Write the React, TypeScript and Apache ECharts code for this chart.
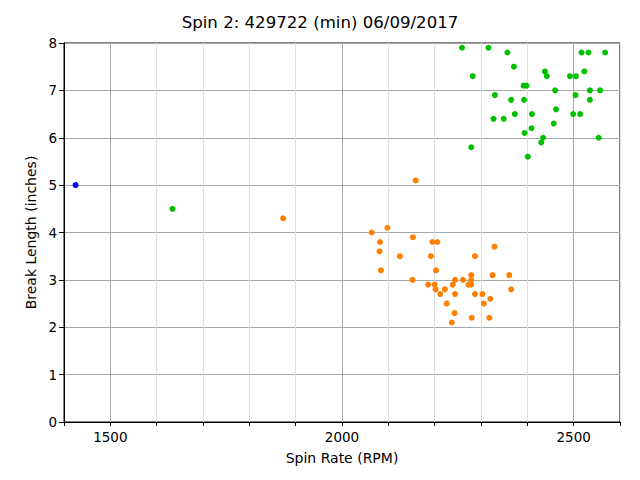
import React, { useEffect, useRef } from "react";
import * as echarts from "echarts";

const title = "Spin 2: 429722 (min) 06/09/2017";
const xName = "Spin Rate (RPM)";
const yName = "Break Length (inches)";

const blueX = [1425];
const blueY = [5.0];

const greenX = [1634, 2259, 2316, 2357, 2517, 2532, 2568, 2371, 2438, 2442, 2282, 2492, 2505, 2523, 2392, 2398, 2460, 2535, 2557, 2330, 2504, 2365, 2393, 2535, 2462, 2327, 2349, 2373, 2410, 2499, 2514, 2457, 2409, 2394, 2434, 2430, 2554, 2279, 2401];
const greenY = [4.5, 7.9, 7.9, 7.8, 7.8, 7.8, 7.8, 7.5, 7.4, 7.3, 7.3, 7.3, 7.3, 7.4, 7.1, 7.1, 7.0, 7.0, 7.0, 6.9, 6.9, 6.8, 6.8, 6.8, 6.6, 6.4, 6.4, 6.5, 6.5, 6.5, 6.5, 6.3, 6.2, 6.1, 6.0, 5.9, 6.0, 5.8, 5.6];

const orangeX = [1873, 2159, 2064, 2098, 2082, 2081, 2153, 2195, 2206, 2125, 2192, 2287, 2329, 2084, 2203, 2152, 2279, 2325, 2361, 2244, 2261, 2279, 2186, 2200, 2239, 2273, 2279, 2202, 2222, 2365, 2212, 2244, 2287, 2303, 2320, 2306, 2226, 2243, 2280, 2318, 2237];
const orangeY = [4.3, 5.1, 4.0, 4.1, 3.8, 3.6, 3.9, 3.8, 3.8, 3.5, 3.5, 3.5, 3.7, 3.2, 3.2, 3.0, 3.1, 3.1, 3.1, 3.0, 3.0, 3.0, 2.9, 2.9, 2.9, 2.9, 2.9, 2.8, 2.8, 2.8, 2.7, 2.7, 2.7, 2.7, 2.6, 2.5, 2.5, 2.3, 2.2, 2.2, 2.1];

const xMin = 1400;
const xMax = 2600;
const xStep = 100;
const xLabelStep = 500;
const yMin = 0;
const yMax = 8;
const yStep = 1;

const zip = (xs: number[], ys: number[]) => xs.map((x, i) => [x, ys[i]]);

export default function App() {
  const ref = useRef<HTMLDivElement>(null);
  useEffect(() => {
    document.body.style.margin = "0";
    const chart = echarts.init(ref.current!, null, { renderer: "svg" });
    const font = "DejaVu Sans";
    const major = "#a8a8a8";
    const minor = "#dedede";
    chart.setOption({
      animation: false,
      backgroundColor: "#ffffff",
      title: {
        text: title,
        left: "center",
        top: 9,
        textStyle: { fontFamily: font, fontSize: 16.6, fontWeight: "normal", color: "#000" },
      },
      grid: {
        left: 64,
        right: 20,
        top: 43,
        bottom: 58,
        show: true,
        borderColor: "#000",
        borderWidth: 1,
        backgroundColor: "transparent",
      },
      xAxis: {
        type: "value",
        min: xMin,
        max: xMax,
        interval: xStep,
        name: xName,
        nameLocation: "middle",
        nameGap: 29,
        nameTextStyle: { fontFamily: font, fontSize: 14, color: "#000" },
        axisLine: { show: true, onZero: false, lineStyle: { color: "#000", width: 1 } },
        axisTick: { show: true, inside: false, length: 4, lineStyle: { color: "#000" } },
        axisLabel: {
          fontFamily: font,
          fontSize: 13.5,
          color: "#000",
          margin: 8,
          formatter: (v: number) => (v % xLabelStep === 0 ? String(v) : ""),
        },
        splitLine: {
          show: true,
          lineStyle: { color: [minor, major, minor, minor, minor], width: 1 },
        },
      },
      yAxis: {
        type: "value",
        min: yMin,
        max: yMax,
        interval: yStep,
        name: yName,
        nameLocation: "middle",
        nameGap: 26,
        nameTextStyle: { fontFamily: font, fontSize: 14, color: "#000" },
        axisLine: { show: true, onZero: false, lineStyle: { color: "#000", width: 1 } },
        axisTick: { show: true, inside: false, length: 5, lineStyle: { color: "#000" } },
        axisLabel: { fontFamily: font, fontSize: 13.5, color: "#000", margin: 7 },
        splitLine: { show: true, lineStyle: { color: major, width: 1 } },
      },
      series: [
        {
          type: "scatter",
          data: zip(blueX, blueY),
          symbolSize: 6,
          itemStyle: { color: "#0000ff", opacity: 1 },
        },
        {
          type: "scatter",
          data: zip(greenX, greenY),
          symbolSize: 6,
          itemStyle: { color: "#00c000", opacity: 1 },
        },
        {
          type: "scatter",
          data: zip(orangeX, orangeY),
          symbolSize: 6,
          itemStyle: { color: "#ff8000", opacity: 1 },
        },
      ],
    });
    return () => chart.dispose();
  }, []);
  return <div ref={ref} style={{ width: 640, height: 480, position: "absolute", left: 0, top: 0 }} />;
}
